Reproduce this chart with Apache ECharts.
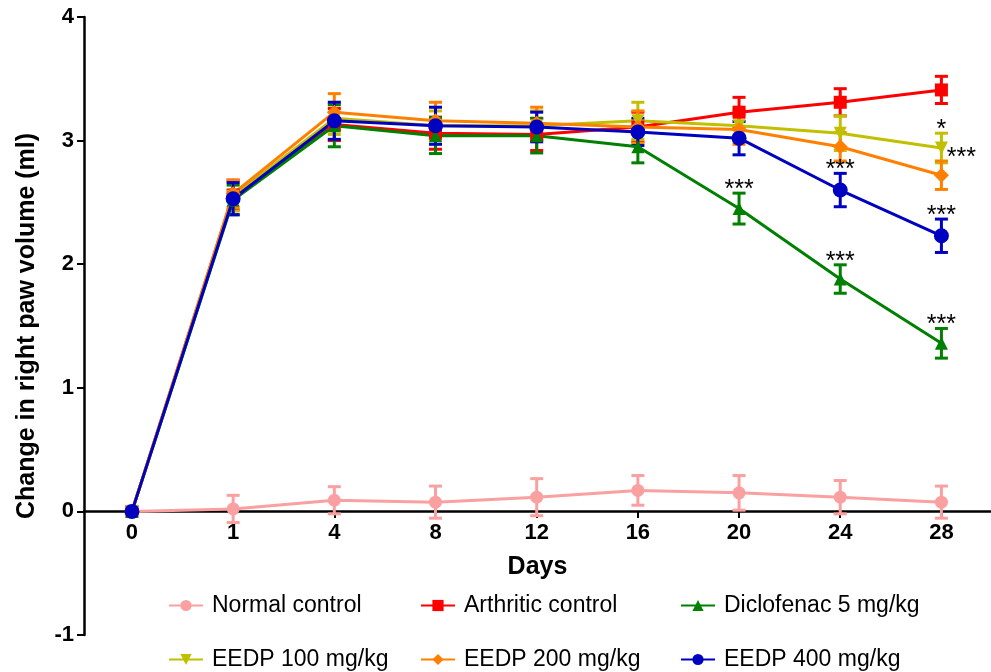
<!DOCTYPE html>
<html>
<head>
<meta charset="utf-8">
<script src="https://cdn.jsdelivr.net/npm/echarts@6/dist/echarts.min.js"></script>
<style>
  html, body { margin: 0; padding: 0; background: #fff; }
  #chart { width: 991px; height: 672px; }
</style>
</head>
<body>
<div id="chart"></div>
<script>
// 数据：天数与各组均值 / 误差
const days = ['0', '1', '4', '8', '12', '16', '20', '24', '28'];

const normalMean = [0, 0.02, 0.09, 0.075, 0.115, 0.17, 0.15, 0.115, 0.075];
const normalErr  = [0, 0.11, 0.11, 0.13, 0.15, 0.12, 0.14, 0.135, 0.13];
const normalSig  = ['', '', '', '', '', '', '', '', ''];

const arthMean = [0, 2.56, 3.13, 3.06, 3.05, 3.11, 3.23, 3.31, 3.41];
const arthErr  = [0, 0.12, 0.13, 0.13, 0.13, 0.12, 0.12, 0.11, 0.11];
const arthSig  = ['', '', '', '', '', '', '', '', ''];

const dicloMean = [0, 2.52, 3.12, 3.04, 3.04, 2.95, 2.45, 1.88, 1.36];
const dicloErr  = [0, 0.12, 0.17, 0.145, 0.14, 0.13, 0.125, 0.115, 0.12];
const dicloSig  = ['', '', '', '', '', '', '***', '***', '***'];

const eedp100Mean = [0, 2.55, 3.18, 3.12, 3.12, 3.16, 3.12, 3.06, 2.94];
const eedp100Err  = [0, 0.12, 0.13, 0.12, 0.12, 0.15, 0.13, 0.14, 0.12];
const eedp100Sig  = ['', '', '', '', '', '', '', '', '*'];

const eedp200Mean = [0, 2.57, 3.23, 3.16, 3.14, 3.11, 3.09, 2.95, 2.72];
const eedp200Err  = [0, 0.11, 0.15, 0.15, 0.13, 0.13, 0.12, 0.115, 0.115];
const eedp200Sig  = ['', '', '', '', '', '', '', '', '***'];

const eedp400Mean = [0, 2.53, 3.16, 3.12, 3.11, 3.07, 3.02, 2.60, 2.23];
const eedp400Err  = [0, 0.13, 0.15, 0.15, 0.12, 0.11, 0.135, 0.135, 0.135];
const eedp400Sig  = ['', '', '', '', '', '', '', '***', '***'];

const yTicks = [-1, 0, 1, 2, 3, 4];

const FONT = 'Liberation Sans, Arial, sans-serif';

const groups = [
    {name: 'Normal control', mean: normalMean, err: normalErr, sig: normalSig,
     color: '#FAA0A0', symbol: 'circle', size: 13, starDx: 0},
    {name: 'Arthritic control', mean: arthMean, err: arthErr, sig: arthSig,
     color: '#FF0000', symbol: 'rect', size: 13, starDx: 0},
    {name: 'Diclofenac 5 mg/kg', mean: dicloMean, err: dicloErr, sig: dicloSig,
     color: '#008000', symbol: 'triangle', size: 13, starDx: 0},
    {name: 'EEDP 100 mg/kg', mean: eedp100Mean, err: eedp100Err, sig: eedp100Sig,
     color: '#C0C000', symbol: 'path://M0,0 L10,0 L5,10 Z', size: 13, starDx: 0},
    {name: 'EEDP 200 mg/kg', mean: eedp200Mean, err: eedp200Err, sig: eedp200Sig,
     color: '#FF8000', symbol: 'diamond', size: 15, starDx: 20},
    {name: 'EEDP 400 mg/kg', mean: eedp400Mean, err: eedp400Err, sig: eedp400Sig,
     color: '#0000C0', symbol: 'circle', size: 15, starDx: 0}
];

const X_MIN = -0.474, X_MAX = 8.49;

// 误差线
function errorBarRender(params, api) {
    const x = api.value(0);
    const lo = api.coord([x, api.value(1) - api.value(2)]);
    const hi = api.coord([x, api.value(1) + api.value(2)]);
    if (api.value(2) === 0) return null;
    const cap = 6.5;
    const style = {stroke: api.visual('color'), lineWidth: 3};
    return {
        type: 'group',
        children: [
            {type: 'line', shape: {x1: hi[0], y1: hi[1], x2: lo[0], y2: lo[1]}, style: style},
            {type: 'line', shape: {x1: hi[0] - cap, y1: hi[1], x2: hi[0] + cap, y2: hi[1]}, style: style},
            {type: 'line', shape: {x1: lo[0] - cap, y1: lo[1], x2: lo[0] + cap, y2: lo[1]}, style: style}
        ]
    };
}

const series = [];
groups.forEach(function(g) {
    series.push({
        name: g.name,
        type: 'line',
        xAxisIndex: 0,
        yAxisIndex: 0,
        data: g.mean.map(function(v, i) { return [i, v]; }),
        symbol: g.symbol,
        symbolSize: g.size,
        showSymbol: true,
        lineStyle: {color: g.color, width: 3},
        itemStyle: {color: g.color},
        z: 2
    });
});
groups.forEach(function(g) {
    series.push({
        name: g.name,
        type: 'custom',
        xAxisIndex: 0,
        yAxisIndex: 0,
        renderItem: errorBarRender,
        itemStyle: {color: g.color},
        encode: {x: 0, y: 1},
        data: g.mean.map(function(v, i) { return [i, v, g.err[i]]; }),
        silent: true,
        z: 1
    });
});

// 显著性星号
groups.forEach(function(g) {
    const starData = [];
    g.sig.forEach(function(s, i) {
        if (s) starData.push([i, g.mean[i] + g.err[i], s]);
    });
    if (!starData.length) return;
    series.push({
        type: 'custom',
        xAxisIndex: 0,
        yAxisIndex: 0,
        silent: true,
        z: 5,
        data: starData,
        encode: {x: 0, y: 1},
        renderItem: function(params, api) {
            const p = api.coord([api.value(0), api.value(1)]);
            return {
                type: 'text',
                x: p[0] + g.starDx,
                y: p[1] - 3,
                style: {
                    text: starData[params.dataIndex][2],
                    fill: '#000',
                    font: '25px ' + FONT,
                    align: 'center',
                    verticalAlign: 'middle'
                }
            };
        }
    });
});

// 图例（两行三列）
const legendPos = [[163, 589], [415, 589], [675, 589], [163, 643], [415, 643], [675, 643]];
const legends = groups.map(function(g, i) {
    return {
        data: [g.name],
        left: legendPos[i][0],
        top: legendPos[i][1],
        itemWidth: 34,
        itemHeight: 14,
        textStyle: {fontSize: 23, fontFamily: FONT, color: '#000', padding: [0, 0, 0, 4]},
        selectedMode: false
    };
});

const chart = echarts.init(document.getElementById('chart'), null, {renderer: 'canvas'});
chart.setOption({
    animation: false,
    backgroundColor: '#fff',
    grid: [
        // 绘图区 (y: -1 ~ 4)
        {left: 84, right: 0, top: 17, bottom: 37, outerBoundsMode: 'none'},
        // x 轴放在 y = 0 处
        {left: 84, right: 0, top: 17, bottom: 161, outerBoundsMode: 'none'}
    ],
    legend: legends,
    xAxis: [
        {
            gridIndex: 0,
            type: 'value',
            min: X_MIN,
            max: X_MAX,
            show: false
        },
        {
            gridIndex: 1,
            type: 'value',
            min: X_MIN,
            max: X_MAX,
            position: 'bottom',
            name: 'Days',
            nameLocation: 'middle',
            nameGap: 44,
            nameTextStyle: {fontSize: 25, fontWeight: 'bold', fontFamily: FONT, color: '#000'},
            axisLine: {onZero: false, lineStyle: {color: '#000', width: 2.5}},
            axisTick: {show: true, length: 7, lineStyle: {color: '#000', width: 2},
                       customValues: days.map(function(d, i) { return i; })},
            axisLabel: {
                customValues: days.map(function(d, i) { return i; }),
                formatter: function(v) { return days[Math.round(v)]; },
                fontSize: 22, fontWeight: 'bold', fontFamily: FONT, color: '#000', margin: 11
            },
            splitLine: {show: false}
        }
    ],
    yAxis: [
        {
            gridIndex: 0,
            type: 'value',
            min: yTicks[0],
            max: yTicks[yTicks.length - 1],
            interval: 1,
            name: 'Change in right paw volume (ml)',
            nameLocation: 'middle',
            nameGap: 44,
            nameTextStyle: {fontSize: 25, fontWeight: 'bold', fontFamily: FONT, color: '#000'},
            axisLine: {show: true, onZero: false, lineStyle: {color: '#000', width: 2.5}},
            axisTick: {show: true, length: 7, lineStyle: {color: '#000', width: 2}},
            axisLabel: {fontSize: 22, fontWeight: 'bold', fontFamily: FONT, color: '#000', margin: 10},
            splitLine: {show: false}
        },
        {
            gridIndex: 1,
            type: 'value',
            min: 0,
            max: 1,
            show: false
        }
    ],
    series: series
});

window.addEventListener('resize', function() { chart.resize(); });
</script>
</body>
</html>
